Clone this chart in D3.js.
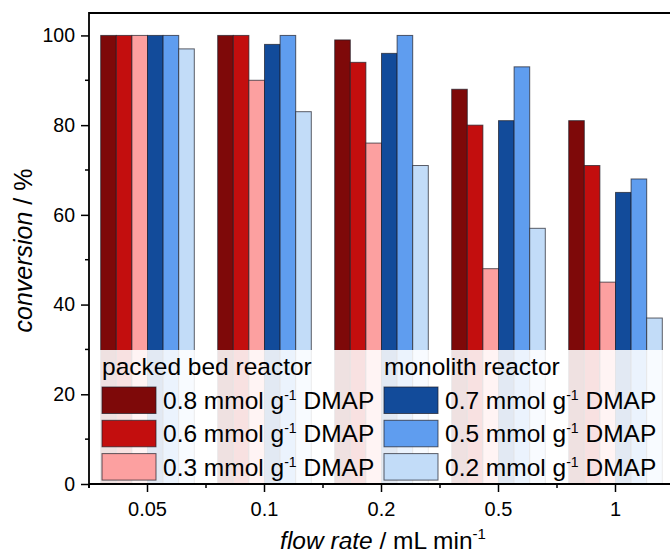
<!DOCTYPE html>
<html>
<head>
<meta charset="utf-8">
<script src="https://cdn.jsdelivr.net/npm/d3@7"></script>
<style>
	body { margin: 0; background: #fff; }
	text { font-family: "Liberation Sans", Arial, sans-serif; fill: #000; }
</style>
</head>
<body>
<script>
	var flowRates = ["0.05", "0.1", "0.2", "0.5", "1"];
	var seriesNames = ["pb08", "pb06", "pb03", "mo07", "mo05", "mo02"];
	var seriesLabels = ["0.8", "0.6", "0.3", "0.7", "0.5", "0.2"];
	var seriesColors = ["#7e0909", "#c30e0e", "#fca0a0", "#124b9a", "#5f9def", "#c2dcf8"];
	var pb08 = [100, 100, 99, 88, 81];
	var pb06 = [100, 100, 94, 80, 71];
	var pb03 = [100, 90, 76, 48, 45];
	var mo07 = [100, 98, 96, 81, 65];
	var mo05 = [100, 100, 100, 93, 68];
	var mo02 = [97, 83, 71, 57, 37];
	var yTicks = [0, 20, 40, 60, 80, 100];
	var yMinor = [10, 30, 50, 70, 90];

(function(d3) {
	var values = [pb08, pb06, pb03, mo07, mo05, mo02];

	var width = 670;
	var height = 556;
	var pLeft = 89, pTop = 13, pBottom = 484, pRight = 674;

	var svg = d3.select("body").append("svg")
		.attr("width", width)
		.attr("height", height);

	var x = d3.scaleBand()
		.domain(flowRates)
		.range([pLeft, pRight])
		.paddingInner(0.2)
		.paddingOuter(0.1);

	var xSub = d3.scaleBand()
		.domain(seriesNames)
		.range([0, x.bandwidth()]);

	var y = d3.scaleLinear()
		.domain([0, 105])
		.range([pBottom, pTop]);

	// bars
	var groups = svg.append("g").selectAll("g")
		.data(flowRates)
		.enter().append("g")
		.attr("transform", function(d) { return "translate(" + x(d) + ",0)"; });

	groups.selectAll("rect")
		.data(function(d, i) {
			return seriesNames.map(function(s, j) { return {s: s, v: values[j][i], c: seriesColors[j]}; });
		})
		.enter().append("rect")
		.attr("x", function(d) { return xSub(d.s); })
		.attr("y", function(d) { return y(d.v); })
		.attr("width", xSub.bandwidth())
		.attr("height", function(d) { return pBottom - y(d.v); })
		.attr("fill", function(d) { return d.c; })
		.attr("stroke", "rgba(30,30,40,0.7)")
		.attr("stroke-width", 1);

	// legend background, lets the bars show through a bit
	svg.append("rect")
		.attr("x", 100)
		.attr("y", 350)
		.attr("width", pRight - 100)
		.attr("height", pBottom - 350)
		.attr("fill", "#fff")
		.attr("fill-opacity", 0.88);

	function legendColumn(x0, title, idx) {
		svg.append("text")
			.attr("x", x0)
			.attr("y", 375)
			.attr("font-size", "24.5px")
			.text(title);
		idx.forEach(function(j, k) {
			var yy = 387 + k * 33.3;
			svg.append("rect")
				.attr("x", x0)
				.attr("y", yy)
				.attr("width", 54)
				.attr("height", 26.5)
				.attr("fill", seriesColors[j])
				.attr("stroke", "rgba(30,30,40,0.7)")
				.attr("stroke-width", 1);
			var t = svg.append("text")
				.attr("x", x0 + 61)
				.attr("y", yy + 22)
				.attr("font-size", "24.5px");
			t.append("tspan").text(seriesLabels[j] + " mmol g");
			t.append("tspan").attr("dy", -9).attr("font-size", "14px").text("-1");
			t.append("tspan").attr("dy", 9).text(" DMAP");
		});
	}
	legendColumn(102, "packed bed reactor", [0, 1, 2]);
	legendColumn(384, "monolith reactor", [3, 4, 5]);

	// axes
	var yAxis = svg.append("g")
		.attr("transform", "translate(" + pLeft + ",0)")
		.call(d3.axisLeft(y).tickValues(yTicks).tickSize(8).tickPadding(6));
	yAxis.select(".domain").remove();
	yAxis.selectAll("text").attr("font-size", "19.5px").attr("font-family", "Liberation Sans, Arial, sans-serif").attr("fill", "#000");
	yAxis.selectAll("line").attr("stroke-width", 1.5);

	svg.append("g").selectAll("line")
		.data(yMinor)
		.enter().append("line")
		.attr("x1", pLeft - 4).attr("x2", pLeft)
		.attr("y1", function(d) { return y(d); })
		.attr("y2", function(d) { return y(d); })
		.attr("stroke", "#000").attr("stroke-width", 1.5);

	var xAxis = svg.append("g")
		.attr("transform", "translate(0," + pBottom + ")")
		.call(d3.axisBottom(x).tickSize(8).tickPadding(10));
	xAxis.select(".domain").remove();
	xAxis.selectAll("line").attr("stroke-width", 1.5);
	xAxis.selectAll("text").attr("font-size", "20px").attr("font-family", "Liberation Sans, Arial, sans-serif").attr("fill", "#000");

	// minor x ticks at group boundaries
	var bounds = flowRates.map(function(d) { return x(d) - x.step() * 0.1; });
	bounds.push(pRight);
	svg.append("g").selectAll("line")
		.data(bounds)
		.enter().append("line")
		.attr("x1", function(d) { return d; }).attr("x2", function(d) { return d; })
		.attr("y1", pBottom).attr("y2", pBottom + 4)
		.attr("stroke", "#000").attr("stroke-width", 1.5);

	// frame
	svg.append("path")
		.attr("d", "M" + pLeft + "," + (pBottom + 4) + "V" + pTop + "H" + pRight + "V" + pBottom + "H" + pLeft)
		.attr("fill", "none")
		.attr("stroke", "#000")
		.attr("stroke-width", 1.8);

	// axis titles
	var yt = svg.append("text")
		.attr("transform", "translate(32," + ((pTop + pBottom) / 2 + 2) + ") rotate(-90)")
		.attr("text-anchor", "middle")
		.attr("font-size", "25px");
	yt.append("tspan").attr("font-style", "italic").text("conversion");
	yt.append("tspan").text(" / %");

	var xt = svg.append("text")
		.attr("x", 383)
		.attr("y", 549)
		.attr("text-anchor", "middle")
		.attr("font-size", "24.5px");
	xt.append("tspan").attr("font-style", "italic").text("flow rate");
	xt.append("tspan").text(" / mL min");
	xt.append("tspan").attr("dy", -10).attr("font-size", "15px").text("-1");
})(d3);
</script>
</body>
</html>
